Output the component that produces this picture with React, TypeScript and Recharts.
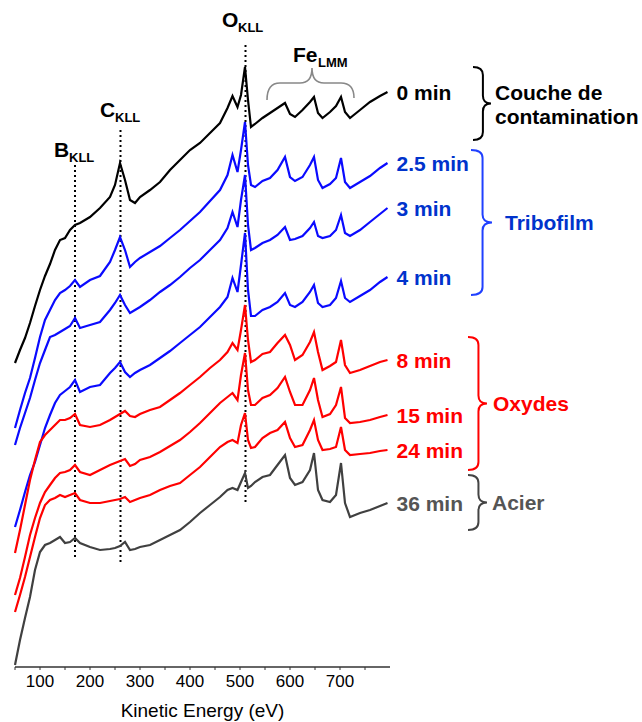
import { LabelList, Line, LineChart, ReferenceLine, XAxis, YAxis } from "recharts";

// Kinetic energy grid (eV)
const energies = [
  50, 60, 70, 80, 90, 100, 110, 120, 130, 140, 150, 160, 170, 180, 200, 220, 240, 250, 260, 270,
  280, 290, 300, 320, 340, 360, 380, 400, 420, 440, 460, 475, 485, 495, 502, 510, 516, 522, 530, 545,
  560, 575, 590, 600, 610, 625, 640, 648, 656, 665, 680, 692, 702, 710, 720, 740, 760, 780, 795,
];

// Stacked Auger spectra, arbitrary units (offset included)
const min0 = [
  304, 317, 329, 344, 361, 377, 391, 403, 417, 427, 429, 437, 442, 444, 450, 459, 470, 482, 504, 487,
  467, 464, 470, 477, 485, 497, 507, 517, 524, 534, 544, 559, 571, 560, 572, 600, 567, 540, 543, 549,
  554, 559, 564, 553, 550, 557, 565, 570, 554, 549, 555, 561, 570, 555, 549, 557, 565, 571, 575,
];
const min2_5 = [
  239, 257, 274, 289, 309, 330, 347, 357, 367, 374, 377, 381, 387, 380, 387, 391, 405, 417, 430, 417,
  400, 405, 409, 415, 421, 429, 437, 446, 455, 466, 477, 492, 512, 495, 517, 545, 502, 482, 480, 486,
  489, 497, 510, 490, 486, 490, 502, 510, 487, 479, 483, 489, 509, 485, 479, 485, 491, 499, 504,
];
const min3 = [
  222, 239, 254, 269, 287, 304, 317, 330, 332, 335, 338, 341, 349, 339, 342, 345, 357, 364, 372, 362,
  354, 357, 360, 367, 375, 382, 390, 399, 407, 417, 427, 439, 455, 440, 467, 492, 442, 417, 419, 424,
  427, 432, 440, 427, 428, 431, 439, 445, 431, 429, 431, 437, 452, 434, 431, 437, 445, 453, 459,
];
const min4 = [
  140, 157, 175, 192, 205, 222, 239, 252, 264, 272, 276, 280, 287, 275, 280, 282, 294, 299, 305, 295,
  290, 294, 297, 302, 309, 316, 324, 332, 340, 350, 360, 370, 389, 375, 402, 434, 377, 351, 351, 357,
  360, 365, 374, 362, 360, 365, 375, 382, 364, 360, 362, 369, 386, 369, 365, 371, 377, 385, 390,
];
const min8 = [
  114, 137, 162, 187, 207, 225, 232, 237, 242, 247, 247, 249, 253, 242, 240, 242, 247, 250, 253, 256,
  251, 250, 253, 257, 260, 267, 274, 282, 290, 299, 307, 315, 324, 317, 337, 362, 327, 305, 307, 313,
  315, 324, 332, 322, 307, 312, 325, 335, 315, 297, 301, 305, 327, 302, 294, 297, 301, 305, 307,
];
const min15 = [
  72, 89, 110, 132, 149, 164, 175, 182, 189, 194, 195, 197, 202, 195, 192, 197, 202, 204, 206, 208,
  201, 203, 207, 210, 215, 221, 227, 235, 244, 254, 264, 270, 274, 267, 292, 314, 277, 262, 262, 269,
  272, 279, 290, 275, 262, 262, 277, 289, 267, 250, 253, 262, 280, 249, 244, 245, 247, 250, 252,
];
const min24 = [
  55, 72, 90, 110, 130, 149, 162, 167, 169, 172, 170, 172, 174, 167, 164, 164, 166, 167, 168, 170,
  165, 167, 169, 172, 177, 181, 184, 192, 200, 210, 220, 225, 227, 224, 242, 254, 227, 219, 220, 229,
  234, 237, 245, 229, 220, 222, 237, 247, 227, 217, 218, 220, 240, 217, 212, 213, 214, 216, 217,
];
const min36 = [
  2, 27, 49, 70, 97, 115, 122, 124, 127, 130, 124, 125, 129, 124, 120, 117, 118, 119, 121, 125,
  117, 118, 120, 122, 127, 132, 137, 145, 154, 162, 170, 177, 179, 177, 185, 194, 179, 181, 185, 190,
  192, 202, 212, 189, 182, 185, 197, 214, 177, 167, 165, 172, 204, 164, 150, 154, 157, 161, 164,
];

const seriesNames = ["0 min", "2.5 min", "3 min", "4 min", "8 min", "15 min", "24 min", "36 min"];
const seriesValues = [min0, min2_5, min3, min4, min8, min15, min24, min36];
const lineColors = ["#000000", "#0a0aff", "#0a0aff", "#0a0aff", "#ff0000", "#ff0000", "#ff0000", "#404040"];
const labelColors = ["#000000", "#0033cc", "#0033cc", "#0033cc", "#ff0000", "#ff0000", "#ff0000", "#555555"];

const xTicks = [50, 100, 150, 200, 250, 300, 350, 400, 450, 500, 550, 600, 650, 700, 750];
const xTickLabels = [100, 200, 300, 400, 500, 600, 700];

// dotted marker lines: energy, bottom, top
const peakLines = [
  { energy: 170, from: 110, to: 502 },
  { energy: 261, from: 105, to: 537 },
  { energy: 511, from: 165, to: 625 },
];

const data = energies.map((e, i) => {
  const row: Record<string, number> = { energy: e };
  seriesValues.forEach((s, k) => {
    row["s" + k] = s[i];
  });
  return row;
});

const font = "'Liberation Sans', Arial, Helvetica, sans-serif";
const lastIndex = energies.length - 1;

function bracePath(x0: number, top: number, bottom: number, tip: number) {
  const mid = (top + bottom) / 2;
  const x1 = x0 + (tip - x0) * 0.55;
  const r = 8;
  return `M${x0},${top} Q${x1},${top} ${x1},${top + r} L${x1},${mid - r} Q${x1},${mid} ${tip},${mid} Q${x1},${mid} ${x1},${mid + r} L${x1},${bottom - r} Q${x1},${bottom} ${x0},${bottom}`;
}

function PeakLabel({ x, y, main, sub }: { x: number; y: number; main: string; sub: string }) {
  const mainWidth = main === "Fe" ? 25 : main === "O" ? 16 : 15;
  return (
    <g fontFamily={font} fontWeight="bold" fill="#000">
      <text x={x} y={y} fontSize={21}>
        {main}
      </text>
      <text x={x + mainWidth} y={y + 5} fontSize={13}>
        {sub}
      </text>
    </g>
  );
}

export default function App() {
  return (
    <div style={{ position: "absolute", left: 0, top: 0, width: 642, height: 722, background: "#fff" }}>
      <LineChart width={642} height={722} data={data} margin={{ top: 0, right: 252, left: 15, bottom: 0 }}>
        <XAxis
          type="number"
          dataKey="energy"
          domain={[50, 800]}
          ticks={xTicks}
          interval={0}
          height={55}
          tickSize={3}
          tickMargin={5}
          axisLine={{ stroke: "#333", strokeWidth: 1.5 }}
          tickLine={{ stroke: "#333" }}
          tick={{ fill: "#000", fontSize: 17, fontFamily: font }}
          tickFormatter={(v: number) => (xTickLabels.includes(v) ? String(v) : "")}
          label={{
            value: "Kinetic Energy (eV)",
            position: "insideBottom",
            offset: 5,
            fill: "#000",
            fontSize: 19,
            fontFamily: font,
          }}
        />
        <YAxis hide type="number" domain={[0, 667]} />
        {peakLines.map((p) => (
          <ReferenceLine
            key={p.energy}
            segment={[
              { x: p.energy, y: p.from },
              { x: p.energy, y: p.to },
            ]}
            stroke="#000"
            strokeWidth={2}
            strokeDasharray="2 3"
          />
        ))}
        {seriesNames.map((name, k) => (
          <Line
            key={name}
            type="linear"
            dataKey={"s" + k}
            stroke={lineColors[k]}
            strokeWidth={2.2}
            dot={false}
            isAnimationActive={false}
          >
            <LabelList
              dataKey={"s" + k}
              content={(p: any) =>
                p.index === lastIndex ? (
                  <text
                    x={p.x + 9}
                    y={p.y + 8}
                    fill={labelColors[k]}
                    fontSize={21}
                    fontWeight="bold"
                    fontFamily={font}
                  >
                    {name}
                  </text>
                ) : null
              }
            />
          </Line>
        ))}
      </LineChart>
      <svg
        width={642}
        height={722}
        style={{ position: "absolute", left: 0, top: 0, pointerEvents: "none" }}
      >
        <PeakLabel x={54} y={157} main="B" sub="KLL" />
        <PeakLabel x={100} y={117} main="C" sub="KLL" />
        <PeakLabel x={222} y={27} main="O" sub="KLL" />
        <PeakLabel x={293} y={62} main="Fe" sub="LMM" />
        <path
          d="M267,100 Q267,83 280,83 L300,83 Q312,83 312,68 Q312,83 324,83 L341,83 Q354,83 354,98"
          fill="none"
          stroke="#888"
          strokeWidth={1.6}
        />
        <g fill="none" strokeWidth={2}>
          <path d={bracePath(473, 67, 140, 491)} stroke="#000" />
          <path d={bracePath(471, 150, 295, 492)} stroke="#2040ff" />
          <path d={bracePath(468, 337, 470, 487)} stroke="#ff0000" />
          <path d={bracePath(468, 475, 530, 487)} stroke="#444" />
        </g>
        <g fontFamily={font} fontWeight="bold" fontSize={21}>
          <text x={495} y={100} fill="#000">
            Couche de
          </text>
          <text x={495} y={124} fill="#000">
            contamination
          </text>
          <text x={505} y={230} fill="#0033cc">
            Tribofilm
          </text>
          <text x={493} y={411} fill="#ff0000">
            Oxydes
          </text>
          <text x={492} y={510} fill="#555555">
            Acier
          </text>
        </g>
      </svg>
    </div>
  );
}
